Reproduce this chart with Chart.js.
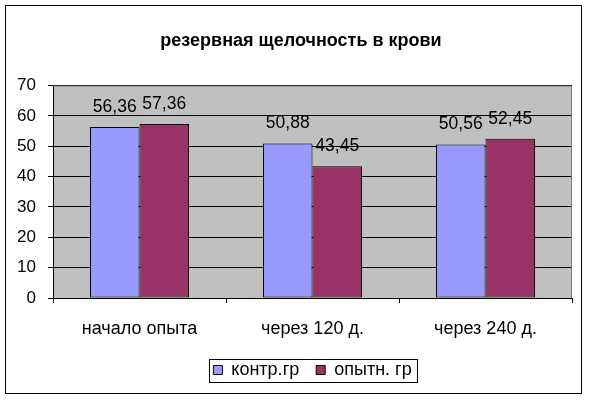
<!DOCTYPE html>
<html>
<head>
<meta charset="utf-8">
<title>резервная щелочность в крови</title>
<script src="https://cdn.jsdelivr.net/npm/chart.js@4"></script>
<style>
  body { margin: 0; background: #fff; }
  canvas { display: block; }
</style>
</head>
<body>
<canvas id="chart" width="589" height="402"></canvas>
<script>
// данные диаграммы
const categories = ['начало опыта', 'через 120 д.', 'через 240 д.'];
const controlValues = [56.36, 50.88, 50.56];
const experimentValues = [57.36, 43.45, 52.45];
const seriesNames = ['контр.гр', 'опытн. гр'];
const yTicks = [0, 10, 20, 30, 40, 50, 60, 70];

const FONT = 'Liberation Sans, Arial, sans-serif';

// фон области построения, рамки и подписи значений
const excelLook = {
    id: 'excelLook',
    afterLayout(chart) {
        // заголовок в оригинале чуть правее центра холста
        chart.titleBlock.left += 8;
        chart.titleBlock.right += 8;
    },
    beforeDraw(chart) {
        const ctx = chart.ctx;
        const a = chart.chartArea;
        ctx.save();
        ctx.fillStyle = '#ffffff';
        ctx.fillRect(0, 0, chart.width, chart.height);
        ctx.fillStyle = '#c0c0c0';
        ctx.fillRect(a.left, a.top, a.right - a.left, a.bottom - a.top);
        ctx.restore();
    },
    afterDatasetsDraw(chart) {
        const ctx = chart.ctx;
        const a = chart.chartArea;
        ctx.save();
        // верх и правая сторона области построения
        ctx.strokeStyle = '#808080';
        ctx.lineWidth = 1;
        ctx.beginPath();
        ctx.moveTo(a.left, a.top + 0.5);
        ctx.lineTo(a.right - 0.5, a.top + 0.5);
        ctx.lineTo(a.right - 0.5, a.bottom);
        ctx.stroke();

        // подписи значений над столбиками
        ctx.fillStyle = '#000';
        ctx.font = '17.5px ' + FONT;
        ctx.textAlign = 'center';
        ctx.textBaseline = 'middle';
        chart.data.datasets.forEach((ds, i) => {
            chart.getDatasetMeta(i).data.forEach((bar, j) => {
                const txt = ds.data[j].toFixed(2).replace('.', ',');
                ctx.fillText(txt, bar.x, bar.y - 20);
            });
        });
        ctx.restore();
    },
    afterDraw(chart) {
        const ctx = chart.ctx;
        ctx.save();
        ctx.strokeStyle = '#000';
        ctx.lineWidth = 1;
        // рамка всей диаграммы
        ctx.strokeRect(5.5, 5.5, 576, 388);
        // рамка легенды
        const hb = chart.legend.legendHitBoxes;
        if (hb && hb.length) {
            const first = hb[0];
            const last = hb[hb.length - 1];
            const cy = first.top + first.height / 2;
            const left = Math.round(first.left - 4) + 0.5;
            const right = Math.round(last.left + last.width + 5) + 0.5;
            ctx.strokeRect(left, Math.round(cy - 11) + 0.5, right - left, 23);
        }
        ctx.restore();
    }
};

const ctx = document.getElementById('chart').getContext('2d');
const chart = new Chart(ctx, {
    type: 'bar',
    data: {
        labels: categories,
        datasets: [{
            label: seriesNames[0],
            data: controlValues,
            backgroundColor: '#9999ff',
            borderColor: '#000',
            borderWidth: 1,
            borderSkipped: false
        }, {
            label: seriesNames[1],
            data: experimentValues,
            backgroundColor: '#993366',
            borderColor: '#000',
            borderWidth: 1,
            borderSkipped: false
        }]
    },
    options: {
        responsive: false,
        animation: false,
        devicePixelRatio: 1,
        layout: { padding: { left: 14, right: 17, top: 0, bottom: 13 } },
        datasets: {
            bar: { categoryPercentage: 0.572, barPercentage: 1 }
        },
        plugins: {
            title: {
                display: true,
                text: 'резервная щелочность в крови',
                color: '#000',
                font: { family: FONT, size: 18, weight: 'bold' },
                padding: { top: 30, bottom: 34 }
            },
            legend: {
                display: true,
                position: 'bottom',
                fullSize: false,
                labels: {
                    color: '#000',
                    font: { family: FONT, size: 18 },
                    boxWidth: 9,
                    boxHeight: 9,
                    padding: 17
                }
            },
            tooltip: { enabled: false }
        },
        scales: {
            x: {
                grid: {
                    drawOnChartArea: false,
                    drawTicks: true,
                    tickLength: 5,
                    color: '#000'
                },
                border: { color: '#000' },
                ticks: {
                    color: '#000',
                    font: { family: FONT, size: 18 },
                    padding: 15,
                    maxRotation: 0
                },
                afterFit(scale) { scale.height = 46; }
            },
            y: {
                min: 0,
                max: 70,
                afterBuildTicks(scale) {
                    scale.ticks = yTicks.map(v => ({ value: v }));
                },
                grid: {
                    color: '#000',
                    tickLength: 5
                },
                border: { color: '#000' },
                ticks: {
                    color: '#000',
                    font: { family: FONT, size: 17 },
                    padding: 12
                },
                afterFit(scale) { scale.width = 39; }
            }
        }
    },
    plugins: [excelLook]
});
</script>
</body>
</html>
